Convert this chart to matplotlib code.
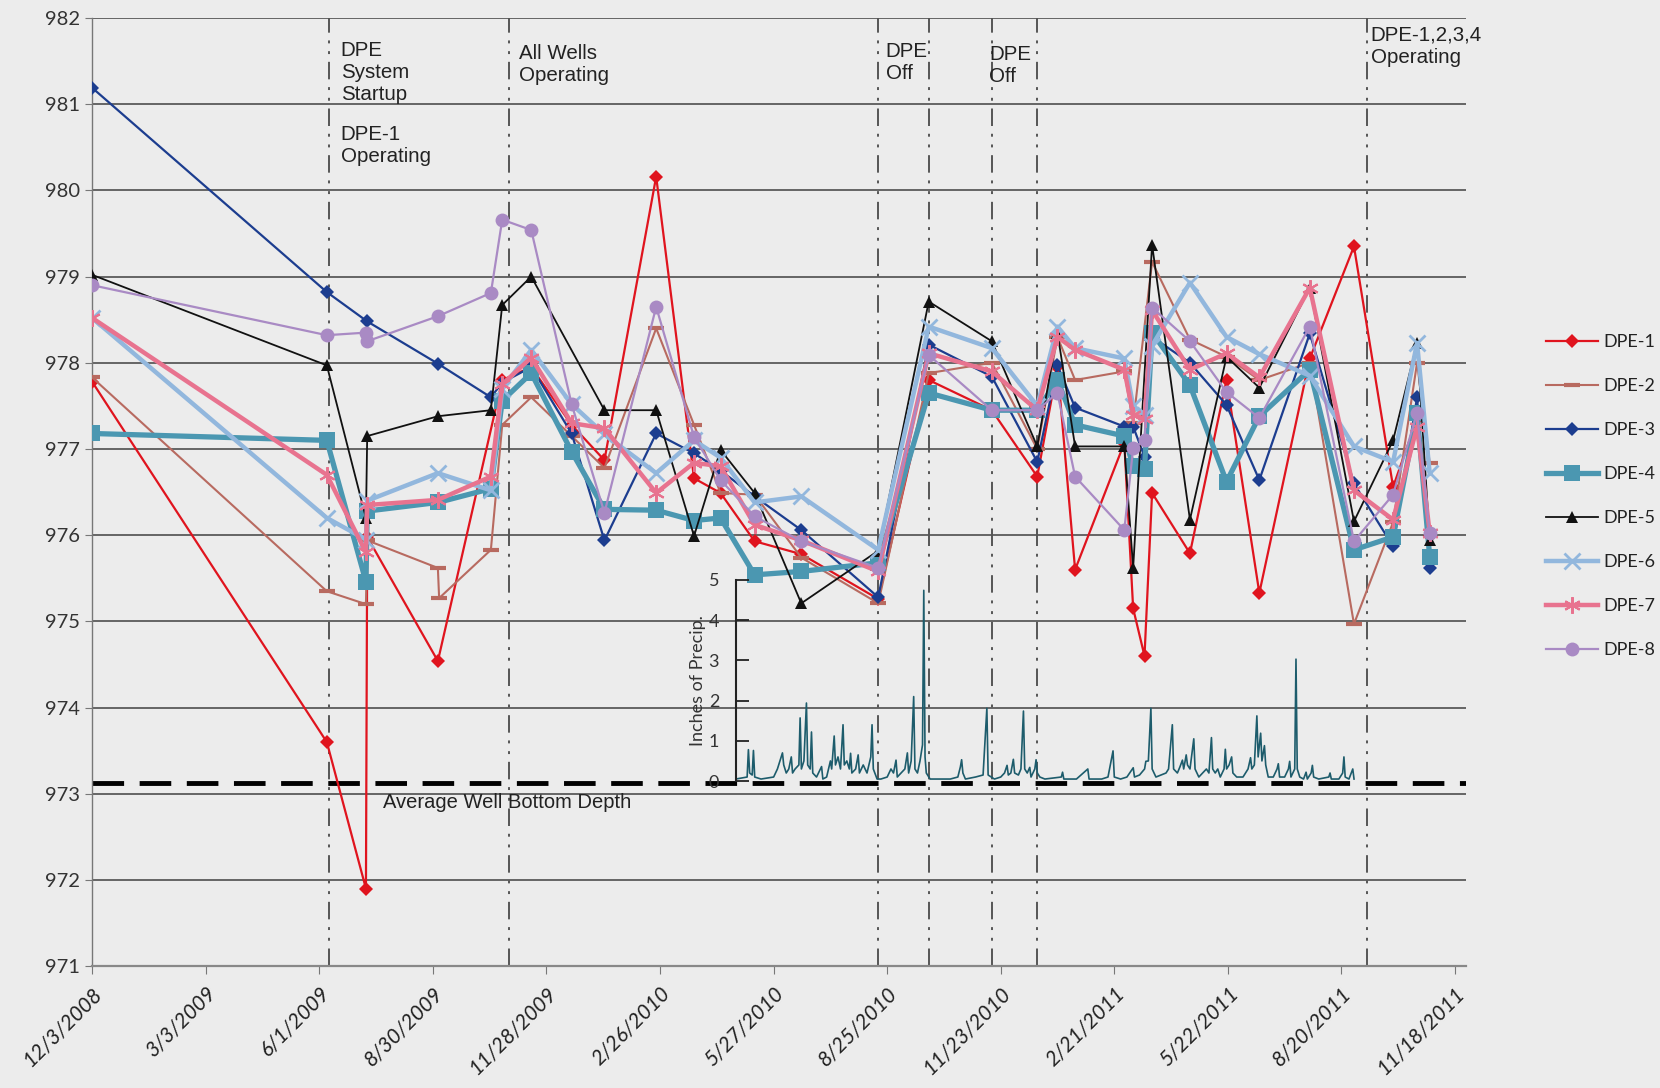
import matplotlib
matplotlib.use('Agg')
import matplotlib.pyplot as plt
import numpy as np
import pandas as pd

nan = np.nan

# ---------------- data ----------------
dates = ['2008-12-03', '2009-06-07', '2009-07-08', '2009-07-09', '2009-09-03', '2009-09-04',
         '2009-10-15', '2009-10-24', '2009-11-16', '2009-12-18', '2010-01-13', '2010-02-23',
         '2010-03-25', '2010-04-15', '2010-05-12', '2010-06-18', '2010-08-18', '2010-09-27',
         '2010-11-16', '2010-12-22', '2011-01-07', '2011-01-21', '2011-03-01', '2011-03-08',
         '2011-03-17', '2011-03-23', '2011-04-22', '2011-05-21', '2011-06-16', '2011-07-26',
         '2011-08-30', '2011-09-30', '2011-10-19', '2011-10-29']

dpe1 = [977.78, 973.60, 971.90, 975.98, 974.54, nan, nan, 977.80, 977.95, 977.28, 976.87, 980.16,
        976.66, 976.49, 975.93, 975.78, 975.26, 977.80, 977.45, 976.68, 977.95, 975.60, 977.07, 975.15,
        974.60, 976.49, 975.79, 977.80, 975.33, 978.05, 979.35, 976.56, 977.35, 975.99]
dpe2 = [977.83, 975.35, 975.20, 975.94, 975.62, 975.27, 975.83, 977.28, 977.60, 977.15, 976.78, 978.40,
        977.28, 976.49, 976.47, 975.74, 975.21, 977.88, 978.00, 977.00, 978.30, 977.80, 977.90, 977.30,
        nan, 979.17, 978.27, 978.07, 977.80, 978.00, 974.97, 976.15, 978.00, 976.84]
dpe3 = [981.19, 978.82, nan, 978.48, 977.99, nan, 977.60, 977.77, 977.95, 977.18, 975.94, 977.18,
        976.95, 976.75, 976.45, 976.06, 975.28, 978.21, 977.84, 976.85, 977.97, 977.48, 977.26, 977.26,
        976.91, 978.30, 978.00, 977.51, 976.64, 978.34, 976.60, 975.87, 977.60, 975.62]
dpe4 = [977.18, 977.10, 975.46, 976.28, 976.38, nan, 976.54, 977.56, 977.88, 976.97, 976.30, 976.29,
        976.17, 976.20, 975.54, 975.58, 975.68, 977.65, 977.45, 977.45, 977.80, 977.28, 977.15, 976.80,
        976.77, 978.35, 977.74, 976.62, 977.38, 977.92, 975.83, 975.98, 977.42, 975.75]
dpe5 = [979.02, 977.97, 976.20, 977.15, 977.38, nan, 977.45, 978.67, 979.00, nan, 977.45, 977.45,
        975.99, 976.99, 976.49, 975.21, 975.82, 978.71, 978.25, 977.03, 978.35, 977.03, 977.03, 975.62,
        nan, 979.37, 976.18, 978.07, 977.71, 978.87, 976.16, 977.10, 978.23, 975.95]
dpe6 = [978.52, 976.20, 975.95, 976.40, 976.72, nan, 976.52, 977.70, 978.15, 977.52, 977.17, 976.72,
        977.10, 976.90, 976.38, 976.45, 975.83, 978.42, 978.17, 977.50, 978.42, 978.17, 978.05, 977.50,
        977.40, 978.20, 978.93, 978.30, 978.10, 977.85, 977.03, 976.85, 978.23, 976.72]
dpe7 = [978.52, 976.70, 975.80, 976.35, 976.41, nan, 976.68, 977.75, 978.06, 977.30, 977.24, 976.49,
        976.84, 976.80, 976.12, 975.94, 975.58, 978.11, 977.90, 977.45, 978.30, 978.15, 977.92, 977.40,
        977.35, 978.61, 977.92, 978.11, 977.83, 978.87, 976.52, 976.18, 977.26, 976.03]
dpe8 = [978.90, 978.32, 978.35, 978.25, 978.54, nan, 978.81, 979.66, 979.54, 977.52, 976.26, 978.65,
        977.14, 976.64, 976.22, 975.93, 975.62, 978.09, 977.45, 977.45, 977.65, 976.68, 976.06, 977.01,
        977.10, 978.64, 978.25, 977.66, 977.36, 978.42, 975.93, 976.47, 977.42, 976.03]

series_names = ['DPE-1', 'DPE-2', 'DPE-3', 'DPE-4', 'DPE-5', 'DPE-6', 'DPE-7', 'DPE-8']
series_values = [dpe1, dpe2, dpe3, dpe4, dpe5, dpe6, dpe7, dpe8]

avg_well_bottom = 973.13

event_dates = ['2009-06-09', '2009-10-29', '2010-08-18', '2010-09-27', '2010-11-16',
               '2010-12-22', '2011-09-09']

xtick_dates = ['2008-12-03', '2009-03-03', '2009-06-01', '2009-08-30', '2009-11-28', '2010-02-26',
               '2010-05-27', '2010-08-25', '2010-11-23', '2011-02-21', '2011-05-22', '2011-08-20',
               '2011-11-18']
xtick_labels = ['12/3/2008', '3/3/2009', '6/1/2009', '8/30/2009', '11/28/2009', '2/26/2010',
                '5/27/2010', '8/25/2010', '11/23/2010', '2/21/2011', '5/22/2011', '8/20/2011',
                '11/18/2011']
yticks = [971, 972, 973, 974, 975, 976, 977, 978, 979, 980, 981, 982]

# inset precipitation (days from start of inset record, inches)
precip_day = [0, 9, 10, 11, 13, 14, 15, 20, 30, 33, 35, 37, 38, 40, 42, 44, 45, 47, 50, 51, 52, 54, 56,
              57, 59, 60, 61, 64, 68, 69, 72, 75, 76, 78, 79, 81, 83, 85, 86, 88, 90, 91, 92, 95, 97,
              98, 101, 104, 107, 108, 109, 112, 115, 120, 123, 125, 127, 128, 131, 134, 136, 137, 139,
              141, 142, 144, 146, 148, 149, 150, 151, 154, 165, 170, 176, 178, 179, 180, 182, 190, 196,
              199, 200, 205, 210, 213, 215, 216, 218, 220, 221, 224, 226, 228, 229, 231, 233, 234, 237,
              238, 239, 241, 245, 258, 259, 260, 270, 279, 280, 290, 295, 299, 300, 305, 310, 315, 316,
              320, 324, 325, 327, 329, 330, 333, 337, 341, 343, 346, 347, 350, 352, 354, 355, 357, 358,
              360, 363, 364, 367, 370, 373, 375, 377, 378, 380, 382, 384, 387, 388, 389, 391, 393, 394,
              397, 402, 406, 408, 409, 411, 413, 414, 416, 417, 419, 420, 422, 426, 429, 430, 431, 435,
              438, 439, 440, 443, 444, 445, 447, 450, 452, 453, 456, 457, 458, 462, 470, 471, 472, 478,
              481, 482, 483, 486, 489, 490]
precip_in = [0.05, 0.1, 0.78, 0.2, 0.15, 0.76, 0.1, 0.05, 0.1, 0.3, 0.5, 0.7, 0.4, 0.2, 0.3, 0.6, 0.2,
             0.3, 0.4, 1.57, 0.3, 0.5, 1.94, 0.4, 0.3, 1.22, 0.2, 0.1, 0.36, 0.05, 0.1, 0.5, 0.3, 1.12,
             0.4, 0.6, 0.3, 1.4, 0.4, 0.5, 0.3, 0.69, 0.2, 0.3, 0.65, 0.2, 0.4, 0.2, 0.6, 1.4, 0.3, 0.05,
             0.05, 0.1, 0.3, 0.2, 0.52, 0.1, 0.2, 0.3, 0.7, 0.2, 0.5, 2.1, 0.3, 0.2, 0.5, 0.9, 4.74, 0.6,
             0.2, 0.05, 0.05, 0.05, 0.1, 0.35, 0.53, 0.2, 0.05, 0.1, 0.15, 1.81, 0.15, 0.05, 0.1, 0.2,
             0.39, 0.15, 0.2, 0.54, 0.2, 0.15, 0.3, 1.74, 0.3, 0.2, 0.34, 0.1, 0.3, 0.53, 0.2, 0.1, 0.05,
             0.1, 0.22, 0.05, 0.05, 0.3, 0.05, 0.05, 0.1, 0.75, 0.1, 0.05, 0.1, 0.33, 0.1, 0.15, 0.3,
             0.49, 0.5, 1.81, 0.3, 0.1, 0.15, 0.2, 0.3, 1.4, 0.3, 0.2, 0.35, 0.52, 0.3, 0.65, 0.4, 0.3,
             1.05, 0.3, 0.1, 0.2, 0.3, 0.2, 1.08, 0.3, 0.2, 0.3, 0.1, 0.3, 0.79, 0.3, 0.4, 0.6, 0.2, 0.1,
             0.1, 0.3, 0.58, 0.3, 0.4, 1.62, 0.6, 1.19, 0.5, 0.88, 0.4, 0.1, 0.1, 0.3, 0.43, 0.1, 0.1,
             0.3, 0.49, 0.1, 0.3, 3.03, 0.3, 0.1, 0.05, 0.22, 0.05, 0.2, 0.39, 0.1, 0.05, 0.1, 0.2, 0.05,
             0.05, 0.2, 0.6, 0.1, 0.05, 0.3, 0.05]

# ---------------- styles ----------------
styles = {
    'DPE-1': dict(color='#e0141e', lw=1.6, marker='D', ms=7, mew=0),
    'DPE-2': dict(color='#b86a60', lw=1.5, marker='_', ms=11, mew=3),
    'DPE-3': dict(color='#1c3d8f', lw=1.6, marker='D', ms=7, mew=0),
    'DPE-4': dict(color='#4b97b1', lw=3.8, marker='s', ms=12, mew=0),
    'DPE-5': dict(color='#111111', lw=1.3, marker='^', ms=9, mew=0),
    'DPE-6': dict(color='#92b7dd', lw=3.2, marker='x', ms=12, mew=2),
    'DPE-7': dict(color='#e8738f', lw=3.2, marker=(6, 2, 0), ms=12, mew=1.5),
    'DPE-8': dict(color='#a98ac4', lw=1.6, marker='o', ms=10, mew=0),
}

bg = '#ececec'
plt.rcParams['font.family'] = ['Lato', 'DejaVu Sans']

fig = plt.figure(figsize=(16.6, 10.88), dpi=100, facecolor=bg)
ax = fig.add_axes([0.0555, 0.1119, 0.8278, 0.8716], facecolor=bg)

d = pd.to_datetime(dates)
for name, vals in zip(series_names, series_values):
    v = np.array(vals, dtype=float)
    m = ~np.isnan(v)
    st = styles[name]
    ax.plot(d[m], v[m], color=st['color'], lw=st['lw'], marker=st['marker'],
            ms=st['ms'], mew=st['mew'], mec=st['color'], mfc=st['color'], label=name, zorder=3)

# axes settings
ax.set_ylim(971, 982)
ax.set_xlim(pd.Timestamp('2008-12-03'), pd.Timestamp('2011-11-27'))
ax.set_yticks(yticks)
ax.set_yticklabels([str(t) for t in yticks], fontsize=14.5, color='#333333')
ax.set_xticks(pd.to_datetime(xtick_dates))
ax.set_xticklabels(xtick_labels, rotation=45, ha='right', rotation_mode='anchor',
                   fontsize=15, color='#222222', style='italic')
ax.tick_params(axis='x', direction='out', length=6, color='#777777', pad=6)
ax.tick_params(axis='y', direction='out', length=5, color='#777777', pad=4)
ax.yaxis.grid(True, color='#5a5a5a', lw=1.3, zorder=0)
ax.set_axisbelow(True)
for s in ['top', 'right']:
    ax.spines[s].set_visible(False)
ax.spines['left'].set_color('#777777')
ax.spines['left'].set_linewidth(1.0)
ax.spines['bottom'].set_color('#888888')
ax.spines['bottom'].set_linewidth(1.6)

# event lines
for ed in event_dates:
    ax.axvline(pd.Timestamp(ed), color='#555555', lw=1.4,
               linestyle=(0, (9, 4, 1.5, 4, 1.5, 4)), zorder=1)

# average well bottom depth
ax.axhline(avg_well_bottom, color='black', lw=3.5, dashes=(6.5, 3.2), zorder=2)
ax.text(0.212, 0.173, 'Average Well Bottom Depth', transform=ax.transAxes,
        fontsize=14.5, family='Liberation Sans', color='#222222', va='center', ha='left')

# annotations
ann_kw = dict(transform=ax.transAxes, fontsize=14.8, family='Liberation Sans',
              color='#222222', va='top', ha='left', linespacing=1.22)
ax.text(0.181, 0.976, 'DPE\nSystem\nStartup', **ann_kw)
ax.text(0.181, 0.887, 'DPE-1\nOperating', **ann_kw)
ax.text(0.3105, 0.973, 'All Wells\nOperating', **ann_kw)
ax.text(0.5775, 0.975, 'DPE\nOff', **ann_kw)
ax.text(0.653, 0.972, 'DPE\nOff', **ann_kw)
ax.text(0.9305, 0.992, 'DPE-1,2,3,4\nOperating', **ann_kw)

# precipitation inset
iax = ax.inset_axes([0.4684, 0.1953, 0.4545, 0.2121])
iax.set_facecolor('none')
iax.plot(precip_day, precip_in, color='#1d5c6c', lw=1.2)
iax.set_xlim(0, 495)
iax.set_ylim(0, 5)
iax.set_yticks([0, 1, 2, 3, 4, 5])
iax.set_yticklabels(['0', '1', '2', '3', '4', '5'], fontsize=13, color='#333333')
iax.tick_params(axis='y', direction='in', length=9, width=1.3, color='#222222', pad=12)
iax.set_xticks([])
for s in ['top', 'right', 'bottom']:
    iax.spines[s].set_visible(False)
iax.spines['left'].set_linewidth(1.5)
iax.spines['left'].set_color('#222222')
iax.set_ylabel('Inches of Precip.', fontsize=13, color='#333333', labelpad=2)

# legend
leg = fig.legend(loc='upper left', bbox_to_anchor=(0.9312, 0.693), frameon=False,
                 fontsize=13, handlelength=2.9, handletextpad=0.3, labelspacing=1.55,
                 borderpad=0, borderaxespad=0)
for t in leg.get_texts():
    t.set_color('#222222')

fig.savefig('out.png', dpi=100, facecolor=bg)
